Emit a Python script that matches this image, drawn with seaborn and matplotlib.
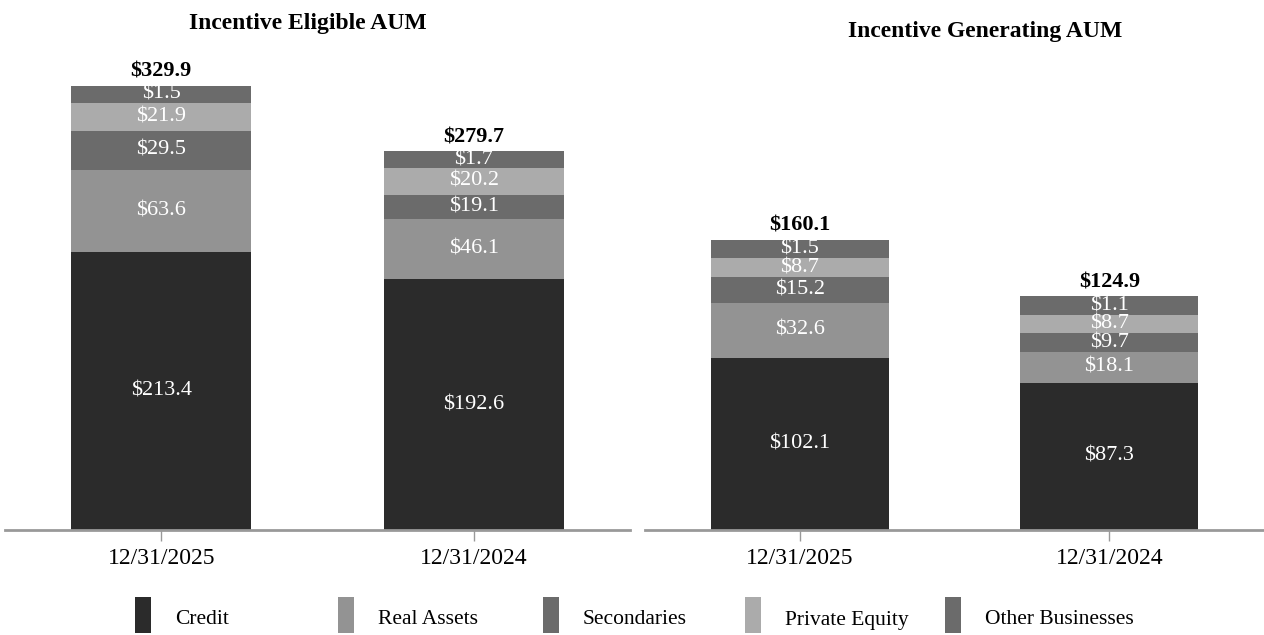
import numpy as np
import pandas as pd
import matplotlib.pyplot as plt
import seaborn as sns
from matplotlib.patches import Rectangle

# Data ($ billions)
dates = ["12/31/2025", "12/31/2024"]
segments = ["Credit", "Real Assets", "Secondaries", "Private Equity", "Other Businesses"]
eligible = {
    "Credit": [213.4, 192.6],
    "Real Assets": [63.6, 46.1],
    "Secondaries": [29.5, 19.1],
    "Private Equity": [21.9, 20.2],
    "Other Businesses": [1.5, 1.7],
}
eligible_totals = [329.9, 279.7]
generating = {
    "Credit": [102.1, 87.3],
    "Real Assets": [32.6, 18.1],
    "Secondaries": [15.2, 9.7],
    "Private Equity": [8.7, 8.7],
    "Other Businesses": [1.5, 1.1],
}
generating_totals = [160.1, 124.9]

colors = ["#2b2b2b", "#939393", "#6b6b6b", "#ababab", "#6b6b6b"]

sns.set_theme(style="white")
plt.rcParams["font.family"] = ["Liberation Serif", "DejaVu Serif"]
plt.rcParams["text.color"] = "black"
plt.rcParams["xtick.color"] = "black"

fig = plt.figure(figsize=(12.64, 6.35), dpi=100)
ax1 = fig.add_axes([5 / 1264, 105 / 635, 625 / 1264, 510 / 635])
ax2 = fig.add_axes([645 / 1264, 105 / 635, 619 / 1264, 510 / 635])


def stacked(ax, data, totals, floor, ymax):
    # small segments get a minimum drawn height so their labels fit
    shown = np.array([np.maximum(data[s], floor) for s in segments])
    cum = np.cumsum(shown, axis=0)
    # draw from the top layer down so each layer covers the one above it
    for i in range(len(segments) - 1, -1, -1):
        df = pd.DataFrame({"date": dates, "v": cum[i]})
        sns.barplot(data=df, x="date", y="v", color=colors[i], saturation=1,
                    width=0.575, ax=ax, edgecolor="none")
    for i, s in enumerate(segments):
        for j in range(len(dates)):
            mid = cum[i, j] - shown[i, j] / 2
            ax.text(j, mid, f"${data[s][j]:.1f}", ha="center", va="center",
                    color="white", fontsize=16)
    for j, t in enumerate(totals):
        ax.text(j, cum[-1, j] + 3 * ymax / 392, f"${t:.1f}", ha="center",
                va="bottom", fontsize=16, fontweight="bold", color="black")
    ax.set_xlim(-0.5, 1.5)
    ax.set_ylim(0, ymax)
    ax.set_xlabel("")
    ax.set_ylabel("")
    ax.set_yticks([])
    for sp in ["top", "left", "right"]:
        ax.spines[sp].set_visible(False)
    ax.spines["bottom"].set_color("#999999")
    ax.spines["bottom"].set_linewidth(2)
    ax.tick_params(axis="x", bottom=True, length=8, width=1, color="#999999",
                   labelsize=17, pad=5, labelcolor="black")


stacked(ax1, eligible, eligible_totals, 13, 392)
stacked(ax2, generating, generating_totals, 11, 302)

fig.text(308 / 1264, 1 - 24 / 635, "Incentive Eligible AUM", ha="center", va="center",
         fontsize=17, fontweight="bold")
fig.text(985 / 1264, 1 - 31 / 635, "Incentive Generating AUM", ha="center", va="center",
         fontsize=17, fontweight="bold")

# legend
legend_x = [135, 338, 543, 745, 945]
for x, name, c in zip(legend_x, segments, colors):
    fig.add_artist(Rectangle((x / 1264, 1 - 633 / 635), 16 / 1264, 36 / 635,
                             transform=fig.transFigure, facecolor=c, edgecolor="none"))
    fig.text((x + 40) / 1264, 1 - 620 / 635, name, ha="left", va="center", fontsize=15.5)

fig.savefig("out.png", dpi=100)
